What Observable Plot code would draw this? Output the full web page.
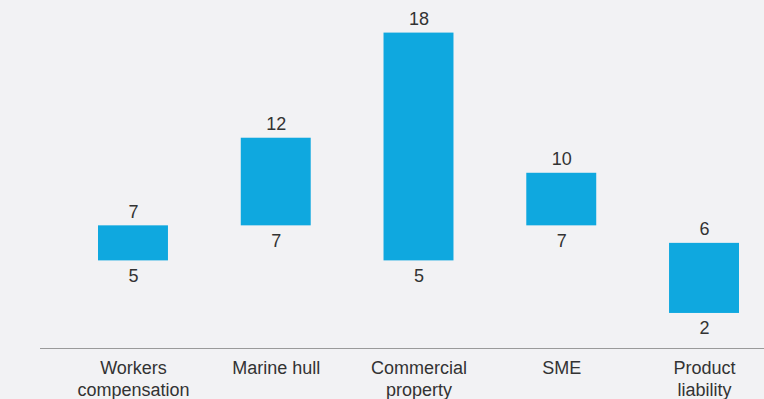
<!DOCTYPE html>
<html>
<head>
<meta charset="utf-8">
<script src="https://cdn.jsdelivr.net/npm/d3@7"></script>
<script src="https://cdn.jsdelivr.net/npm/@observablehq/plot@0.6"></script>
<style>
  html, body { margin: 0; padding: 0; background: #f2f2f4; overflow: hidden; }
  #chart svg { display: block; background: #f2f2f4; }
</style>
</head>
<body>
<div id="chart"></div>
<script>
const categories = ["Workers compensation", "Marine hull", "Commercial property", "SME", "Product liability"];
const tickLabels = ["Workers\ncompensation", "Marine hull", "Commercial\nproperty", "SME", "Product\nliability"];
const lows = [5, 7, 5, 7, 2];
const highs = [7, 12, 18, 10, 6];

const data = categories.map((c, i) => ({category: c, low: lows[i], high: highs[i]}));
const labelOf = new Map(categories.map((c, i) => [c, tickLabels[i]]));

const chart = Plot.plot({
  width: 764,
  height: 399,
  marginTop: 0,
  marginLeft: 40,
  marginRight: 0,
  marginBottom: 51,
  style: {background: "#f2f2f4", fontFamily: "'Liberation Sans', Arial, sans-serif", color: "#333"},
  x: {domain: categories, range: [61.6, 775.4], paddingInner: 0.51, paddingOuter: 0.255, round: false, label: null},
  y: {domain: [0, 19.86], axis: null},
  marks: [
    Plot.barY(data, {x: "category", y1: "low", y2: "high", fill: "#0fa8df"}),
    Plot.ruleY([0], {stroke: "#9a9a9a", strokeWidth: 1}),
    Plot.text(data, {x: "category", y: "high", text: d => String(d.high), dy: -14, fontSize: 18, fill: "#333"}),
    Plot.text(data, {x: "category", y: "low", text: d => String(d.low), dy: 15, fontSize: 18, fill: "#333"}),
    Plot.axisX({tickSize: 0, tickPadding: 10, fontSize: 18, lineHeight: 1.22, fill: "#333", tickFormat: d => labelOf.get(d), lineAnchor: "top"})
  ]
});
document.getElementById("chart").append(chart);
</script>
</body>
</html>
